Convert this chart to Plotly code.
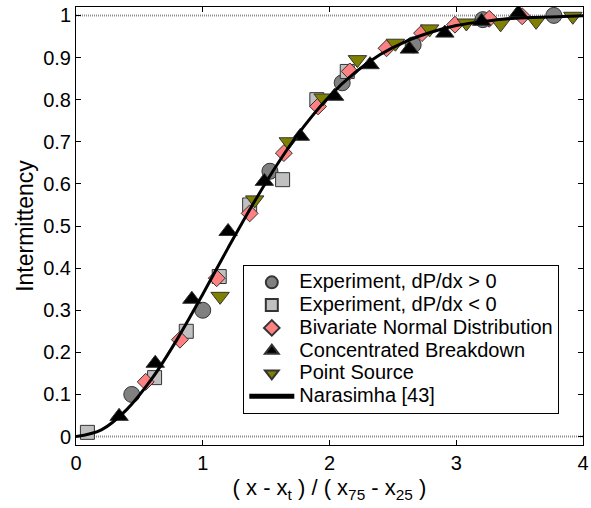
import plotly.graph_objects as go

# Experiment, dP/dx > 0
exp_pos_x = [0.44, 1.00, 1.53, 2.10, 2.66, 3.21, 3.77]
exp_pos_y = [0.10, 0.30, 0.63, 0.84, 0.93, 0.99, 1.00]

# Experiment, dP/dx < 0
exp_neg_x = [0.09, 0.62, 0.87, 1.13, 1.37, 1.63, 1.90, 2.14]
exp_neg_y = [0.01, 0.14, 0.25, 0.38, 0.55, 0.61, 0.80, 0.867]

# Bivariate Normal Distribution
bvn_x = [0.55, 0.82, 1.11, 1.37, 1.64, 1.91, 2.16, 2.45, 2.73, 2.99, 3.26, 3.52]
bvn_y = [0.13, 0.23, 0.376, 0.53, 0.673, 0.784, 0.867, 0.922, 0.958, 0.978, 0.992, 0.998]

# Concentrated Breakdown
cb_x = [0.34, 0.625, 0.914, 1.20, 1.486, 1.77, 2.04, 2.32, 2.63, 2.91, 3.20, 3.49]
cb_y = [0.048, 0.174, 0.326, 0.487, 0.606, 0.713, 0.808, 0.883, 0.92, 0.958, 0.986, 1.006]

# Point Source
ps_x = [1.137, 1.41, 1.675, 1.95, 2.22, 2.52, 2.79, 3.08, 3.35, 3.63, 3.92]
ps_y = [0.333, 0.562, 0.70, 0.804, 0.895, 0.934, 0.968, 0.982, 0.98, 0.986, 0.998]

# Narasimha [43] universal intermittency distribution
curve_x = [0.0, 0.2, 0.4, 0.6, 0.8, 1.0, 1.2, 1.4, 1.6, 1.8, 2.0,
           2.2, 2.4, 2.6, 2.8, 3.0, 3.2, 3.4, 3.6, 3.8, 4.0]
curve_y = [0.0, 0.016, 0.064, 0.138, 0.232, 0.338, 0.448, 0.554, 0.652, 0.737, 0.808,
           0.864, 0.907, 0.938, 0.960, 0.976, 0.985, 0.992, 0.995, 0.997, 0.999]

# Reference levels drawn as dotted lines
ref_levels = [0, 1]

x_ticks = [0, 1, 2, 3, 4]
y_ticks = [0, 0.1, 0.2, 0.3, 0.4, 0.5, 0.6, 0.7, 0.8, 0.9, 1]

FONT = "Liberation Sans, Arial, sans-serif"
EDGE = dict(color="#333333", width=1)


def legend_label(text):
    # larger glyphs than the row height implies, to keep rows compact
    return f'<span style="font-size:20px">{text}</span>'


fig = go.Figure()

for lv in ref_levels:
    fig.add_trace(go.Scatter(
        x=[x_ticks[0], x_ticks[-1]], y=[lv, lv], mode="lines",
        line=dict(color="#8c8c8c", width=2, dash="1px,1px"),
        showlegend=False, hoverinfo="skip"))

fig.add_trace(go.Scatter(x=exp_pos_x, y=exp_pos_y, mode="markers",
                         name=legend_label("Experiment, dP/dx &gt; 0"),
                         marker=dict(symbol="circle", size=16, color="#808080", line=EDGE)))
fig.add_trace(go.Scatter(x=exp_neg_x, y=exp_neg_y, mode="markers",
                         name=legend_label("Experiment, dP/dx &lt; 0"),
                         marker=dict(symbol="square", size=14, color="#c0c0c0", line=EDGE)))
fig.add_trace(go.Scatter(x=bvn_x, y=bvn_y, mode="markers",
                         name=legend_label("Bivariate Normal Distribution"),
                         marker=dict(symbol="diamond", size=13, color="#ff8080", line=EDGE)))
fig.add_trace(go.Scatter(x=cb_x, y=cb_y, mode="markers",
                         name=legend_label("Concentrated Breakdown"),
                         marker=dict(symbol="triangle-up", size=16, color="#000000", line=EDGE)))
fig.add_trace(go.Scatter(x=ps_x, y=ps_y, mode="markers",
                         name=legend_label("Point Source"),
                         marker=dict(symbol="triangle-down", size=16, color="#808000", line=EDGE)))
fig.add_trace(go.Scatter(x=curve_x, y=curve_y, mode="lines",
                         name=legend_label("Narasimha [43]"),
                         line=dict(color="#000000", width=3, shape="spline")))

axis_common = dict(
    showline=True, linecolor="#000000", linewidth=1, mirror="ticks",
    ticks="inside", ticklen=5, tickcolor="#000000",
    showgrid=False, zeroline=False, automargin=False,
    tickfont=dict(family=FONT, size=20, color="#000000"),
)

fig.update_layout(
    width=591, height=508,
    margin=dict(l=76, r=8, t=7, b=63),
    paper_bgcolor="#ffffff", plot_bgcolor="#ffffff",
    font=dict(family=FONT, color="#000000"),
    xaxis=dict(range=[0, 4], tickvals=x_ticks, **axis_common,
               title=dict(text="( x - x<sub>t</sub> ) / ( x<sub>75</sub> - x<sub>25</sub> )",
                          font=dict(family=FONT, size=22), standoff=6)),
    yaxis=dict(range=[-0.02, 1.02], tickvals=y_ticks, **axis_common,
               title=dict(text="Intermittency", font=dict(family=FONT, size=23), standoff=3)),
    legend=dict(x=0.33, y=0.411, xanchor="left", yanchor="top",
                bgcolor="#ffffff", bordercolor="#000000", borderwidth=1,
                font=dict(family=FONT, size=15.2), itemsizing="constant",
                itemwidth=45),
    showlegend=True,
)

fig.write_html("out.html")
